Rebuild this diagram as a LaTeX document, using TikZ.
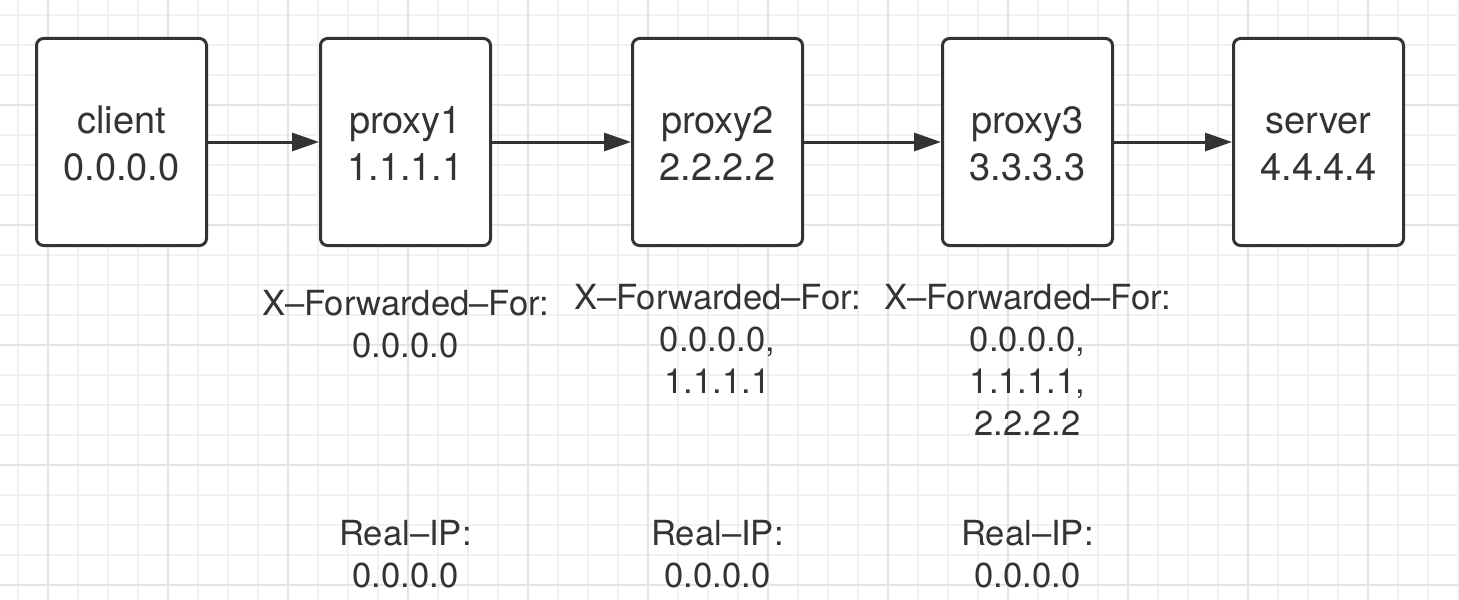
\documentclass[tikz,border=0pt]{standalone}
\usepackage{fontspec}
\setmainfont{TeX Gyre Heros}
\usetikzlibrary{arrows.meta, positioning}
\definecolor{ink}{HTML}{333333}
\definecolor{gridminor}{HTML}{F1F1F1}
\definecolor{gridmajor}{HTML}{E4E4E4}
\newcommand{\hostlabel}[2]{\rule{0pt}{15pt}#1\\#2}

\begin{document}
\begin{tikzpicture}[
    x=0.5pt, y=-0.5pt,
    every node/.style={text=ink},
    hostbox/.style={rectangle, rounded corners=3.5pt, draw=ink, line width=1.5pt, fill=white,
                    minimum width=85pt, minimum height=103.5pt, align=center, inner sep=0pt,
                    font=\fontsize{19}{23.5}\selectfont},
    header/.style ={align=center, inner sep=0pt,
                    font=\fontsize{17.3}{21}\selectfont},
    arr/.style    ={-{Triangle[length=13.5pt, width=9pt]}, line width=1.5pt, draw=ink},
]

% ── Background grid ───────────────────────────────────────────
\useasboundingbox (0,0) rectangle (1459,599);
\fill[white] (0,0) rectangle (1459,599);
\foreach \gx in {18,48,...,1458} \draw[gridminor, line width=0.6pt] (\gx,0) -- (\gx,599);
\foreach \gy in {15,45,...,599}  \draw[gridminor, line width=0.6pt] (0,\gy) -- (1459,\gy);
\foreach \gx in {48,168,...,1458} \draw[gridmajor, line width=0.8pt] (\gx,0) -- (\gx,599);
\foreach \gy in {105,225,...,599} \draw[gridmajor, line width=0.8pt] (0,\gy) -- (1459,\gy);

% ── Hosts ─────────────────────────────────────────────────────
\node[hostbox] at (121.5,142)          (client) {\hostlabel{client}{0.0.0.0}};
\node[hostbox, right=55.5pt of client] (proxy1) {\hostlabel{proxy1}{1.1.1.1}};
\node[hostbox, right=69.5pt of proxy1] (proxy2) {\hostlabel{proxy2}{2.2.2.2}};
\node[hostbox, right=68.5pt of proxy2] (proxy3) {\hostlabel{proxy3}{3.3.3.3}};
\node[hostbox, right=59pt of proxy3]   (server) {\hostlabel{server}{4.4.4.4}};

% ── Headers seen by each proxy ────────────────────────────────
\node[header, below=21.5pt of proxy1] (xff1) {X–Forwarded–For:\\0.0.0.0};
\node[header, below=18.5pt of proxy2] (xff2) {X–Forwarded–For:\\0.0.0.0,\\1.1.1.1};
\node[header, below=18.5pt of proxy3] (xff3) {X–Forwarded–For:\\0.0.0.0,\\1.1.1.1,\\2.2.2.2};

\node[header, below=136.5pt of proxy1] (rip1) {Real–IP:\\0.0.0.0};
\node[header, below=136.5pt of proxy2] (rip2) {Real–IP:\\0.0.0.0};
\node[header, below=136.5pt of proxy3] (rip3) {Real–IP:\\0.0.0.0};

% ── Request path ──────────────────────────────────────────────
\draw[arr] (client) -- (proxy1);
\draw[arr] (proxy1) -- (proxy2);
\draw[arr] (proxy2) -- (proxy3);
\draw[arr] (proxy3) -- (server);

\end{tikzpicture}
\end{document}
